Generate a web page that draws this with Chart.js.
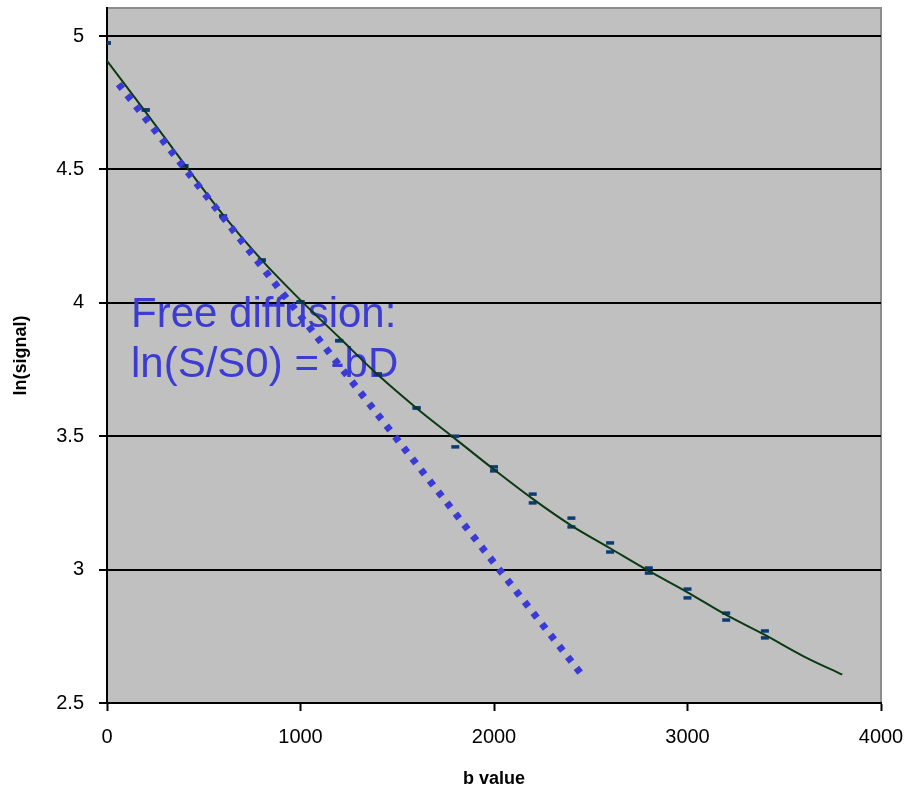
<!DOCTYPE html>
<html>
<head>
<meta charset="utf-8">
<script src="https://cdn.jsdelivr.net/npm/chart.js@4"></script>
<style>
  html, body { margin: 0; padding: 0; background: #fff; }
  #wrap { width: 912px; height: 790px; }
</style>
</head>
<body>
<div id="wrap"><canvas id="chart" width="912" height="790"></canvas></div>
<script>
// measured points (b value, upper / lower mark of ln(signal))
const bValues = [0, 200, 400, 600, 800, 1000, 1200, 1400, 1600, 1800, 2000, 2200, 2400, 2600, 2800, 3000, 3200, 3400];
const lnUpper = [4.974, 4.723, 4.513, 4.325, 4.16, 4.003, 3.858, 3.733, 3.606, 3.50, 3.385, 3.283, 3.193, 3.10, 3.006, 2.927, 2.837, 2.77];
const lnLower = [4.974, 4.723, 4.513, 4.325, 4.16, 4.003, 3.858, 3.733, 3.606, 3.46, 3.37, 3.25, 3.16, 3.066, 2.987, 2.894, 2.811, 2.744];

// fitted curve
const fitB = [0, 200, 400, 600, 800, 1000, 1200, 1400, 1600, 1800, 2000, 2200, 2400, 2600, 2800, 3000, 3200, 3400, 3600, 3800];
const fitLn = [4.907, 4.715, 4.52, 4.33, 4.16, 4.01, 3.87, 3.73, 3.605, 3.49, 3.375, 3.265, 3.165, 3.08, 2.995, 2.915, 2.83, 2.755, 2.675, 2.606];

// free diffusion line
const freeB = [60, 2460];
const freeLn = [4.82, 2.60];

const xTicks = [0, 1000, 2000, 3000, 4000];
const yTicks = [2.5, 3, 3.5, 4, 4.5, 5];
const annotLines = ["Free diffusion:", "ln(S/S0) = -bD"];

const FONT = "'Liberation Sans', Arial, sans-serif";

const toXY = (xs, ys) => xs.map((x, i) => ({ x: x, y: ys[i] }));

// gray plot area with gray top/right frame, plus the annotation text
const plotBg = {
    id: "plotBg",
    beforeDraw(chart) {
        const { ctx, chartArea: a } = chart;
        ctx.save();
        ctx.fillStyle = "#c0c0c0";
        ctx.fillRect(a.left, a.top, a.right - a.left, a.bottom - a.top);
        ctx.strokeStyle = "#8c8c8c";
        ctx.lineWidth = 2;
        ctx.beginPath();
        ctx.moveTo(a.left, a.top);
        ctx.lineTo(a.right, a.top);
        ctx.lineTo(a.right, a.bottom);
        ctx.stroke();
        ctx.restore();
    },
    beforeDatasetsDraw(chart) {
        const { ctx, chartArea: a } = chart;
        ctx.save();
        ctx.fillStyle = "#3c3cd2";
        ctx.font = "42px " + FONT;
        ctx.textBaseline = "alphabetic";
        ctx.fillText(annotLines[0], a.left + 24, 327);
        ctx.fillText(annotLines[1], a.left + 24, 377);
        ctx.restore();
    },
};

new Chart(document.getElementById("chart").getContext("2d"), {
    type: "scatter",
    data: {
        datasets: [
            {
                label: "free",
                data: toXY(freeB, freeLn),
                showLine: true,
                borderColor: "#3a3ad6",
                borderWidth: 7,
                borderDash: [6, 8],
                borderCapStyle: "butt",
                pointRadius: 0,
            },
            {
                label: "fit",
                data: toXY(fitB, fitLn),
                showLine: true,
                borderColor: "#0b3a12",
                borderWidth: 2,
                cubicInterpolationMode: "monotone",
                pointRadius: 0,
            },
            {
                label: "upper",
                data: toXY(bValues, lnUpper),
                pointStyle: "line",
                pointRadius: 4,
                borderWidth: 3.5,
                borderColor: "#0c3c78",
                backgroundColor: "#0c3c78",
            },
            {
                label: "lower",
                data: toXY(bValues, lnLower),
                pointStyle: "line",
                pointRadius: 4,
                borderWidth: 3.5,
                borderColor: "#0c3c78",
                backgroundColor: "#0c3c78",
            },
        ],
    },
    options: {
        responsive: false,
        animation: false,
        layout: { padding: { left: 0, top: 8, right: 31, bottom: 0 } },
        plugins: {
            legend: { display: false },
            tooltip: { enabled: false },
        },
        scales: {
            x: {
                type: "linear",
                min: 0,
                max: 4000,
                afterBuildTicks(scale) {
                    scale.ticks = xTicks.map((v) => ({ value: v }));
                },
                ticks: {
                    color: "#000",
                    font: { family: FONT, size: 20 },
                    padding: 14,
                    maxRotation: 0,
                    callback: (v) => String(v),
                },
                grid: {
                    drawOnChartArea: false,
                    drawTicks: true,
                    tickLength: 8,
                    tickColor: "#000",
                    tickWidth: 2,
                },
                border: { color: "#000", width: 2 },
                title: {
                    display: true,
                    text: "b value",
                    color: "#000",
                    font: { family: FONT, size: 18, weight: "bold" },
                    padding: { top: 12, bottom: 0 },
                },
                afterFit(scale) {
                    scale.height = 87;
                    scale.paddingLeft = 0;
                    scale.paddingRight = 0;
                },
            },
            y: {
                type: "linear",
                min: 2.5,
                max: 5.105,
                afterBuildTicks(scale) {
                    scale.ticks = yTicks.map((v) => ({ value: v }));
                },
                ticks: {
                    color: "#000",
                    font: { family: FONT, size: 20 },
                    padding: 15,
                    callback: (v) => String(v),
                },
                grid: {
                    color: "#000",
                    lineWidth: 2,
                    tickLength: 8,
                    tickColor: "#000",
                },
                border: { color: "#000", width: 2 },
                title: {
                    display: true,
                    text: "ln(signal)",
                    color: "#000",
                    font: { family: FONT, size: 18, weight: "bold" },
                    padding: { top: 10, bottom: 0 },
                },
                afterFit(scale) {
                    scale.width = 107;
                    scale.paddingTop = 0;
                    scale.paddingBottom = 0;
                },
            },
        },
    },
    plugins: [plotBg],
});
</script>
</body>
</html>
